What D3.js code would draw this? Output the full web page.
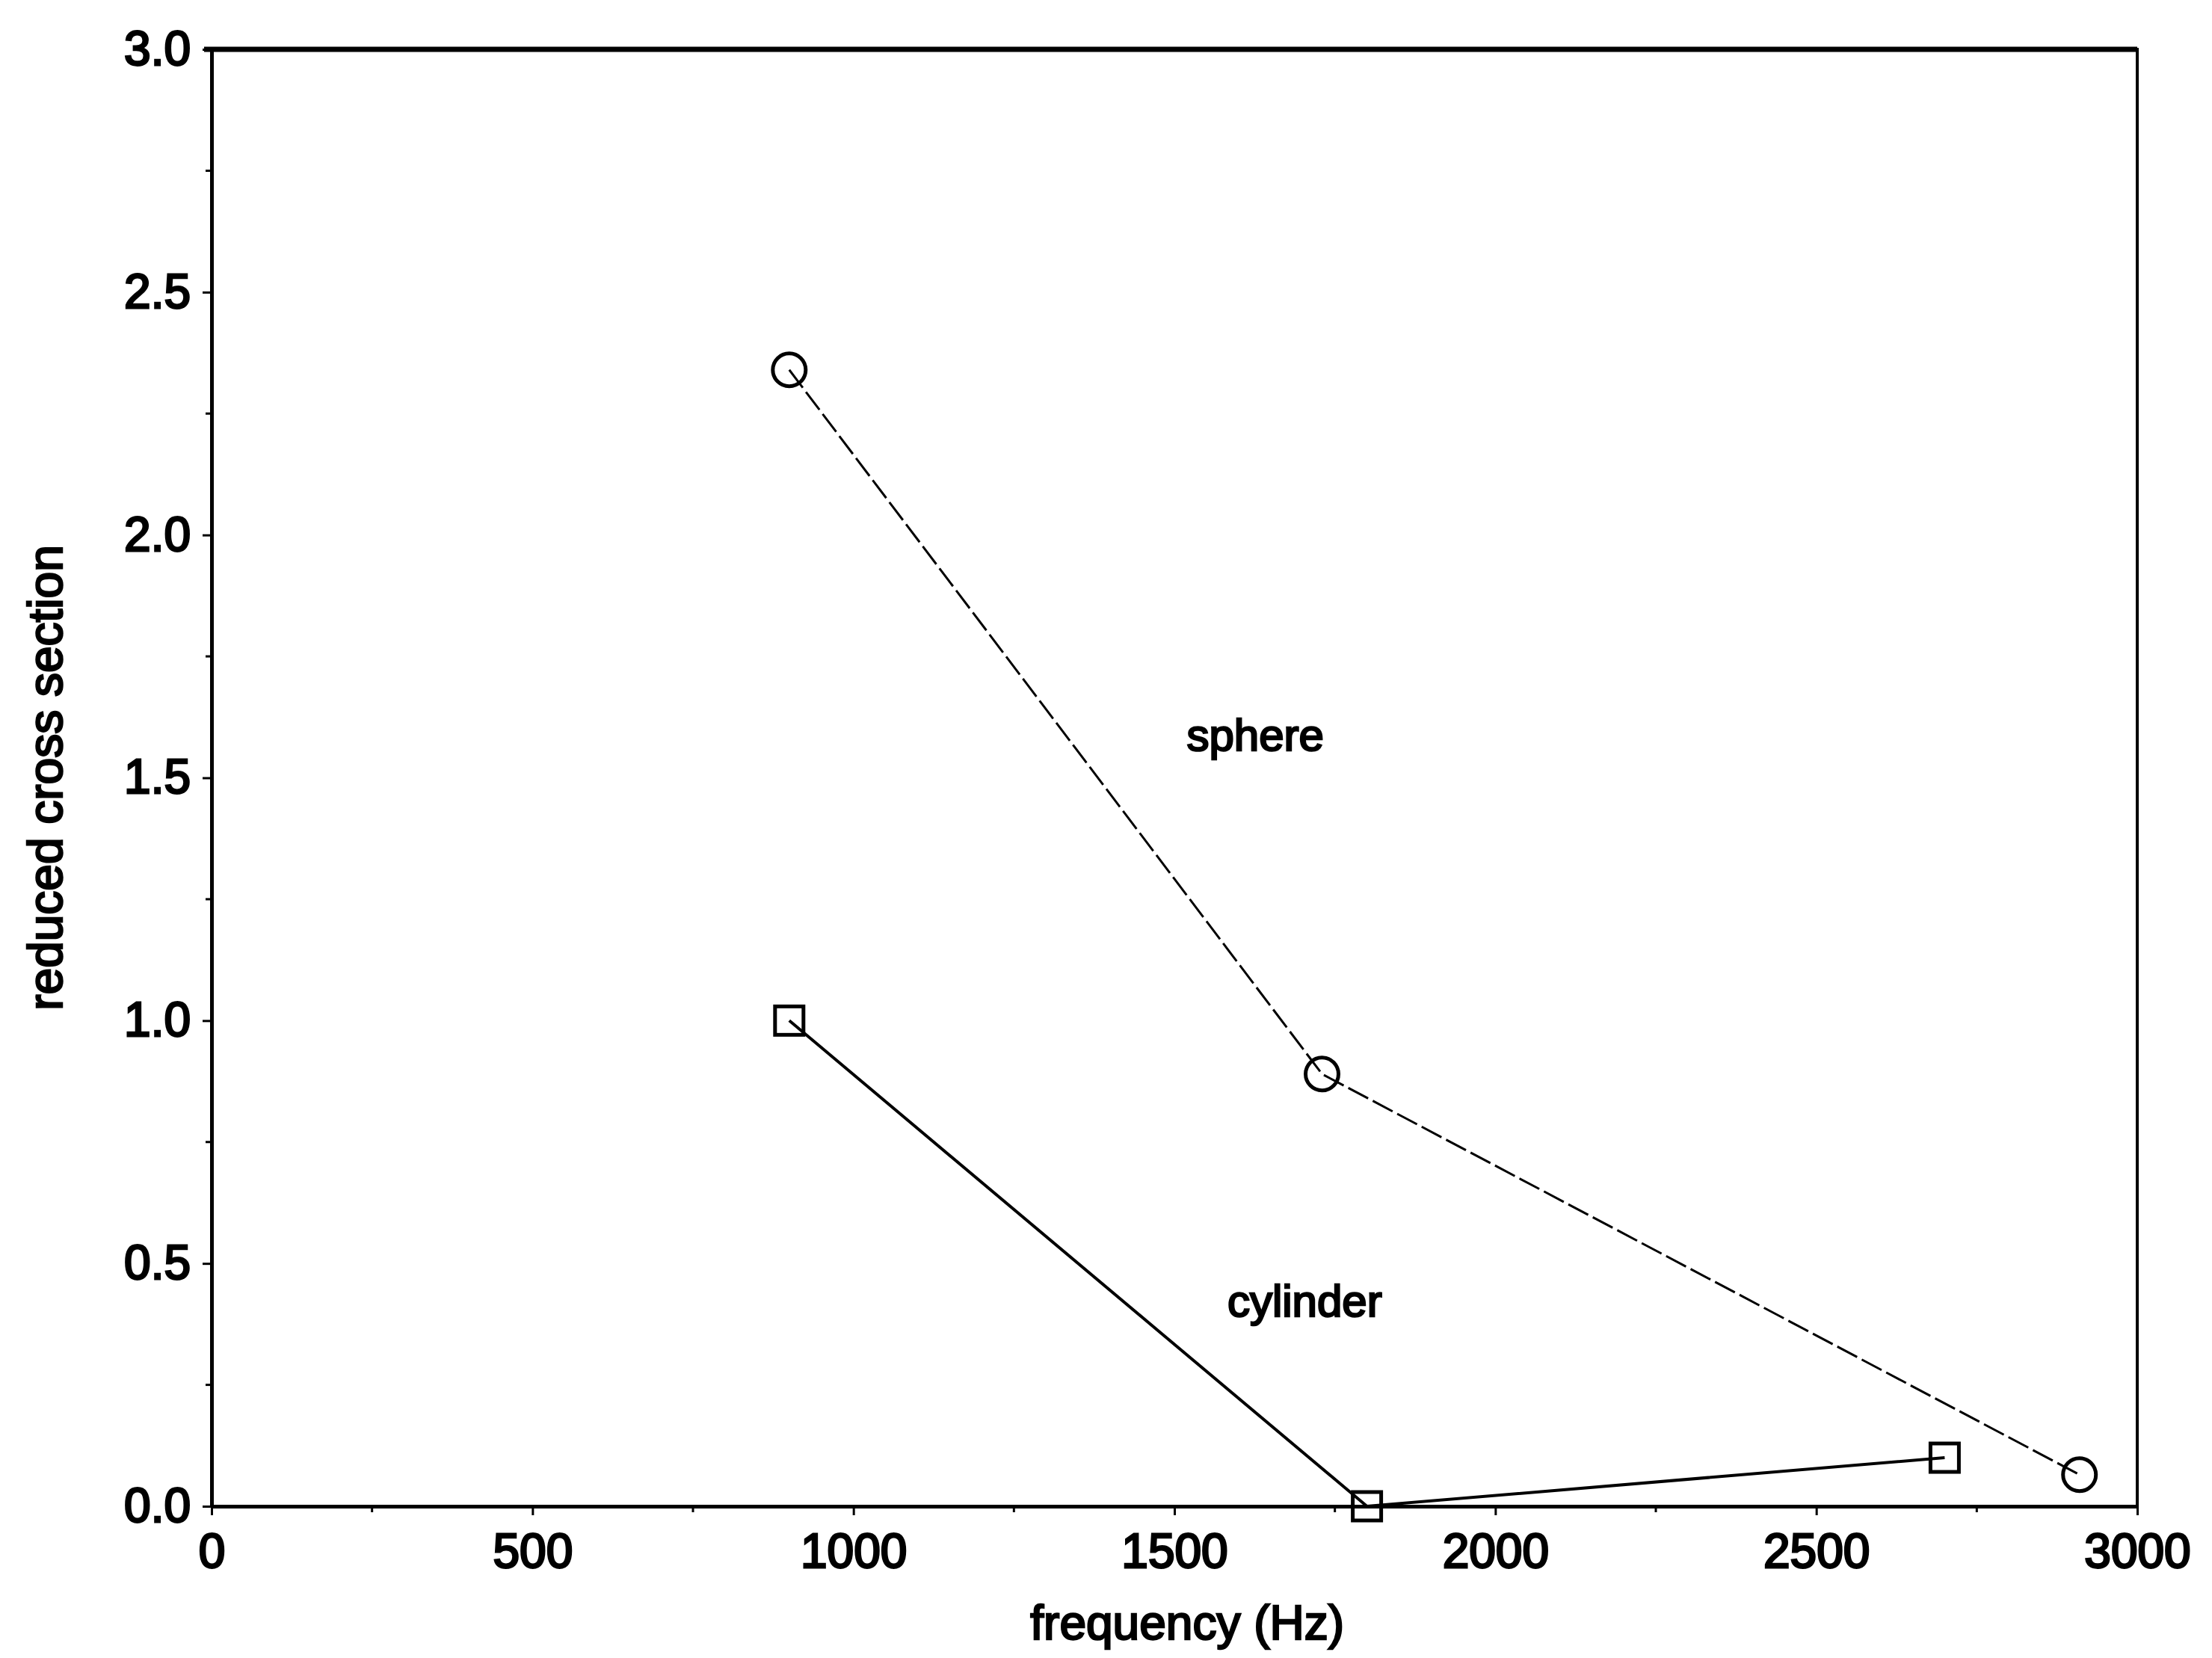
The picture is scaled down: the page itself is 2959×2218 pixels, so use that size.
<!DOCTYPE html>
<html>
<head>
<meta charset="utf-8">
<script src="https://cdn.jsdelivr.net/npm/d3@7"></script>
<style>
  body { margin: 0; background: #fff; }
  text { font-family: "Liberation Sans", Arial, sans-serif; fill: #000; }
</style>
</head>
<body>
<div id="chart"></div>
<script>
const sphereFreq = [900, 1730, 2910];
const sphereVals = [2.34, 0.89, 0.065];
const cylinderFreq = [900, 1800, 2700];
const cylinderVals = [1.0, 0.0, 0.1];
const xTicks = [0, 500, 1000, 1500, 2000, 2500, 3000];
const yTicks = [0, 0.5, 1.0, 1.5, 2.0, 2.5, 3.0];

const W = 2959, H = 2218;
const margin = { top: 66, right: 100, bottom: 203, left: 283 },
    width = W - margin.left - margin.right,
    height = H - margin.top - margin.bottom;

const svg = d3.select("#chart")
    .append("svg")
    .attr("width", W)
    .attr("height", H)
    .append("g")
    .attr("transform", `translate(${margin.left},${margin.top})`);

const x = d3.scaleLinear().domain([0, 3000]).range([0, width]);
const y = d3.scaleLinear().domain([0, 3]).range([height, 0]);

// frame
svg.append("rect")
    .attr("width", width)
    .attr("height", height)
    .attr("fill", "none")
    .attr("stroke", "#000")
    .attr("stroke-width", 4);
svg.append("line")
    .attr("x1", -10).attr("x2", width)
    .attr("y1", 0).attr("y2", 0)
    .attr("stroke", "#000").attr("stroke-width", 7);

// minor ticks
const xMinor = d3.range(250, 3000, 500);
const yMinor = d3.range(0.25, 3, 0.5);
svg.selectAll(".xminor").data(xMinor).join("line")
    .attr("x1", d => x(d)).attr("x2", d => x(d))
    .attr("y1", height).attr("y2", height + 8)
    .attr("stroke", "#000").attr("stroke-width", 3);
svg.selectAll(".yminor").data(yMinor).join("line")
    .attr("x1", 0).attr("x2", -8)
    .attr("y1", d => y(d)).attr("y2", d => y(d))
    .attr("stroke", "#000").attr("stroke-width", 3);

const xAxis = svg.append("g")
    .attr("transform", `translate(0,${height})`)
    .call(d3.axisBottom(x).tickValues(xTicks).tickSize(24).tickSizeOuter(0).tickPadding(6).tickFormat(d3.format("d")));
const yAxis = svg.append("g")
    .call(d3.axisLeft(y).tickValues(yTicks).tickSize(24).tickSizeOuter(0).tickPadding(14).tickFormat(d3.format(".1f")));

[xAxis, yAxis].forEach(a => {
    a.select(".domain").attr("stroke-width", 5);
    a.selectAll(".tick line").attr("stroke-width", 3);
    a.selectAll(".tick text")
        .attr("font-size", 64)
        .attr("stroke", "#000")
        .attr("stroke-width", 2.8)
        .style("font-family", "'Liberation Sans', Arial, sans-serif");
});
xAxis.selectAll(".tick text").attr("dy", "0.85em");
yAxis.selectAll(".tick line").attr("x2", -12);
xAxis.selectAll(".tick line").attr("y2", 12);
xAxis.selectAll(".tick text").attr("y", 28);
yAxis.selectAll(".tick text").attr("x", -28);

// lines
const line = d3.line().x(d => x(d[0])).y(d => y(d[1]));
const sphere = sphereFreq.map((f, i) => [f, sphereVals[i]]);
const cylinder = cylinderFreq.map((f, i) => [f, cylinderVals[i]]);

svg.append("path")
    .datum(sphere)
    .attr("d", line)
    .attr("fill", "none")
    .attr("stroke", "#000")
    .attr("stroke-width", 3)
    .attr("stroke-dasharray", "30,7");

svg.append("path")
    .datum(cylinder)
    .attr("d", line)
    .attr("fill", "none")
    .attr("stroke", "#000")
    .attr("stroke-width", 4);

svg.selectAll(".circ").data(sphere).join("circle")
    .attr("cx", d => x(d[0]))
    .attr("cy", d => y(d[1]))
    .attr("r", 22)
    .attr("fill", "none")
    .attr("stroke", "#000")
    .attr("stroke-width", 5);

const sq = 38;
svg.selectAll(".sq").data(cylinder).join("rect")
    .attr("x", d => x(d[0]) - sq / 2)
    .attr("y", d => y(d[1]) - sq / 2)
    .attr("width", sq)
    .attr("height", sq)
    .attr("fill", "none")
    .attr("stroke", "#000")
    .attr("stroke-width", 5);

// labels
svg.append("text")
    .attr("x", x(1626)).attr("y", y(1.58))
    .attr("text-anchor", "middle")
    .attr("dominant-baseline", "middle")
    .attr("font-size", 60)
    .attr("stroke", "#000").attr("stroke-width", 2.5)
    .text("sphere");
svg.append("text")
    .attr("x", x(1703)).attr("y", y(0.415))
    .attr("text-anchor", "middle")
    .attr("dominant-baseline", "middle")
    .attr("font-size", 60)
    .attr("stroke", "#000").attr("stroke-width", 2.5)
    .text("cylinder");

svg.append("text")
    .attr("x", x(1520)).attr("y", height + 178)
    .attr("text-anchor", "middle")
    .attr("font-size", 64)
    .attr("stroke", "#000").attr("stroke-width", 2.5)
    .text("frequency (Hz)");
svg.append("text")
    .attr("transform", `translate(-200,${y(1.5)}) rotate(-90)`)
    .attr("text-anchor", "middle")
    .attr("font-size", 64)
    .attr("stroke", "#000").attr("stroke-width", 2.5)
    .text("reduced cross section");
</script>
</body>
</html>
